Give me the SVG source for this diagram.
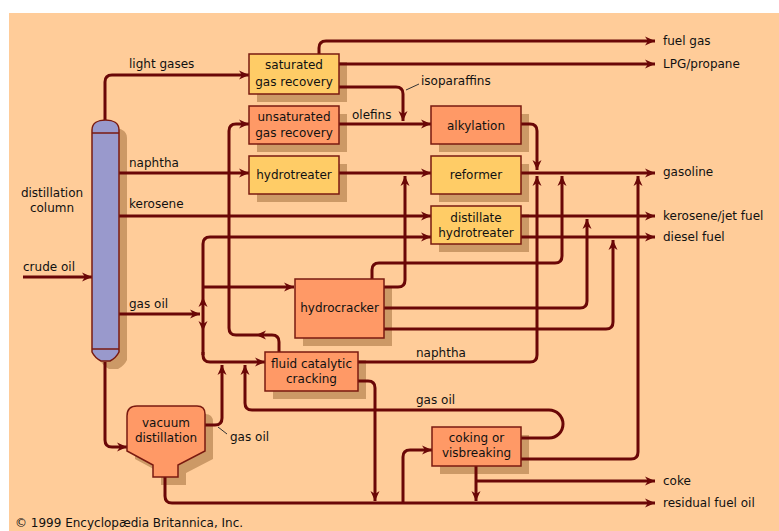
<svg xmlns="http://www.w3.org/2000/svg" xmlns:xlink="http://www.w3.org/1999/xlink" width="779" height="531" viewBox="0 0 779 531">
  <style>
    text { font-family: "DejaVu Sans", "Liberation Sans", sans-serif; font-size: 12px; fill: #111; }
    .c { text-anchor: middle; }
    .pipe { fill: none; stroke: #6a0707; stroke-width: 3; }
    .arr { marker-end: url(#head); }
    .lead { fill: none; stroke: #333; stroke-width: 1; }
    .box { stroke: #7a1a10; stroke-width: 1.5; }
    .yel { fill: #ffcc66; }
    .sal { fill: #ff9966; }
    .shd { fill: #cc9966; }
  </style>
  <defs>
    <marker id="head" markerUnits="userSpaceOnUse" viewBox="-11 -6 12 12" refX="0" refY="0" markerWidth="12" markerHeight="12" orient="auto">
      <path d="M-10,-4.5 L0,0 L-10,4.5 L-7,0 Z" fill="#6a0707"/>
    </marker>
    <path id="tip" d="M-10,-4.5 L0,0 L-10,4.5 L-7,0 Z" fill="#6a0707"/>
    <path id="colShape" d="M92,130 C92,123 98,120 105.5,120 C113,120 119,123 119,130 L119,352 Q116,358 110,361 L101,361 Q95,358 92,352 Z"/>
    <path id="vacShape" d="M127,416 Q127,406 137,406 L197,406 Q205,406 205,414 L205,451 L178,465 L178,477 L153,477 L153,465 L127,451 Z"/>
  </defs>

  <!-- backdrop -->
  <rect x="0" y="0" width="779" height="531" fill="#ffffff"/>
  <rect x="9" y="13" width="770" height="518" fill="#ffcc99"/>

  <!-- drop shadows -->
  <g id="shadows" class="shd">
    <use xlink:href="#colShape" transform="translate(8,8)"/>
    <rect x="257" y="62" width="90" height="40"/>
    <rect x="257" y="114" width="90" height="38"/>
    <rect x="257" y="164" width="90" height="38"/>
    <rect x="439" y="114" width="90" height="38"/>
    <rect x="439" y="164" width="90" height="38"/>
    <rect x="439" y="214" width="90" height="38"/>
    <rect x="303" y="287" width="89" height="59"/>
    <rect x="273" y="360" width="93" height="39"/>
    <use xlink:href="#vacShape" transform="translate(8,8)"/>
    <rect x="440" y="435" width="89" height="39"/>
  </g>

  <!-- process streams -->
  <g id="connectors">
    <path class="pipe arr" d="M105,120 V82 Q105,75 112,75 H249"/>
    <path class="pipe arr" d="M319,54 V48 Q319,41 326,41 H655"/>
    <path class="pipe arr" d="M339,64 H655"/>
    <path class="pipe arr" d="M339,87 H396 Q403,87 403,94 V121"/>
    <path class="pipe arr" d="M339,124 H431"/>
    <path class="pipe arr" d="M279,352 V342 Q279,335 272,335 H236 Q229,335 229,328 V131 Q229,124 236,124 H249"/>
    <use xlink:href="#tip" transform="translate(256,335) rotate(180)"/>
    <path class="pipe arr" d="M119,173 H249"/>
    <path class="pipe arr" d="M339,173 H431"/>
    <path class="pipe arr" d="M119,216 H431"/>
    <path class="pipe arr" d="M23,277 H92"/>
    <path class="pipe arr" d="M119,314 H200"/>
    <path class="pipe arr" d="M203,355 V244 Q203,237 210,237 H431"/>
    <path class="pipe arr" d="M203,352 V355 Q203,362 210,362 H265"/>
    <path class="pipe arr" d="M203,287 H294"/>
    <use xlink:href="#tip" transform="translate(203,297) rotate(-90)"/>
    <use xlink:href="#tip" transform="translate(203,331) rotate(90)"/>
    <path class="pipe arr" d="M105,362 V440 Q105,447 112,447 H127"/>
    <path class="pipe arr" d="M205,425 H215 Q222,425 222,418 V365"/>
    <path class="pipe arr" d="M521,438 H549 A14,14 0 0 0 549,410 H252 Q245,410 245,403 V365"/>
    <path class="pipe arr" d="M358,362 H530 Q537,362 537,355 V176"/>
    <path class="pipe arr" d="M521,124 H530 Q537,124 537,131 V170"/>
    <path class="pipe arr" d="M521,173 H655"/>
    <path class="pipe arr" d="M372,279 V270 Q372,263 379,263 H555 Q562,263 562,256 V176"/>
    <path class="pipe arr" d="M384,287 H398 Q405,287 405,280 V176"/>
    <path class="pipe arr" d="M384,308 H580 Q587,308 587,301 V219"/>
    <path class="pipe arr" d="M384,329 H606 Q613,329 613,322 V240"/>
    <path class="pipe arr" d="M521,459 H631 Q638,459 638,452 V176"/>
    <path class="pipe arr" d="M521,216 H655"/>
    <path class="pipe arr" d="M521,237 H655"/>
    <path class="pipe arr" d="M358,381 H368 Q375,381 375,388 V501"/>
    <path class="pipe arr" d="M165,477 V496 Q165,503 172,503 H655"/>
    <path class="pipe arr" d="M403,503 V457 Q403,450 410,450 H432"/>
    <path class="pipe arr" d="M476,466 V501"/>
    <path class="pipe arr" d="M476,481 H655"/>
    <path class="lead" d="M406,90 L419,84"/>
    <path class="lead" d="M218,427 L227,434"/>
  </g>

  <!-- stream labels -->
  <g id="labels">
    <text x="129" y="68">light gases</text>
    <text x="129" y="167">naphtha</text>
    <text x="129" y="208">kerosene</text>
    <text x="129" y="308">gas oil</text>
    <text x="23" y="271">crude oil</text>
    <text x="352" y="119">olefins</text>
    <text x="421" y="85">isoparaffins</text>
    <text x="416" y="357">naphtha</text>
    <text x="416" y="404">gas oil</text>
    <text x="230" y="441">gas oil</text>
    <text x="663" y="45">fuel gas</text>
    <text x="663" y="68">LPG/propane</text>
    <text x="663" y="176">gasoline</text>
    <text x="663" y="220">kerosene/jet fuel</text>
    <text x="663" y="241">diesel fuel</text>
    <text x="663" y="485">coke</text>
    <text x="663" y="507">residual fuel oil</text>
    <text x="15" y="527">© 1999 Encyclopædia Britannica, Inc.</text>
  </g>

  <!-- units -->
  <g id="distillation-column">
    <use xlink:href="#colShape" fill="#9999cc" stroke="#7a1a10" stroke-width="1.5"/>
    <path d="M92,133 H119 M92,349 H119" stroke="#7a1a10" stroke-width="1.5"/>
    <text class="c" x="52" y="197">distillation</text>
    <text class="c" x="52" y="212">column</text>
  </g>
  <g id="saturated-gas-recovery">
    <rect class="box yel" x="249" y="54" width="90" height="40"/>
    <text class="c" x="294" y="69">saturated</text>
    <text class="c" x="294" y="86">gas recovery</text>
  </g>
  <g id="unsaturated-gas-recovery">
    <rect class="box sal" x="249" y="106" width="90" height="38"/>
    <text class="c" x="294" y="121">unsaturated</text>
    <text class="c" x="294" y="137">gas recovery</text>
  </g>
  <g id="hydrotreater">
    <rect class="box yel" x="249" y="156" width="90" height="38"/>
    <text class="c" x="294" y="179">hydrotreater</text>
  </g>
  <g id="alkylation">
    <rect class="box sal" x="431" y="106" width="90" height="38"/>
    <text class="c" x="476" y="130">alkylation</text>
  </g>
  <g id="reformer">
    <rect class="box yel" x="431" y="156" width="90" height="38"/>
    <text class="c" x="476" y="179">reformer</text>
  </g>
  <g id="distillate-hydrotreater">
    <rect class="box yel" x="431" y="206" width="90" height="38"/>
    <text class="c" x="476" y="222">distillate</text>
    <text class="c" x="476" y="237">hydrotreater</text>
  </g>
  <g id="hydrocracker">
    <rect class="box sal" x="295" y="279" width="89" height="59"/>
    <text class="c" x="339.5" y="312">hydrocracker</text>
  </g>
  <g id="fluid-catalytic-cracking">
    <rect class="box sal" x="265" y="352" width="93" height="39"/>
    <text class="c" x="311.5" y="368">fluid catalytic</text>
    <text class="c" x="311.5" y="383">cracking</text>
  </g>
  <g id="vacuum-distillation">
    <use xlink:href="#vacShape" fill="#ff9966" stroke="#7a1a10" stroke-width="1.5"/>
    <text class="c" x="166" y="427">vacuum</text>
    <text class="c" x="166" y="442">distillation</text>
  </g>
  <g id="coking-visbreaking">
    <rect class="box sal" x="432" y="427" width="89" height="39"/>
    <text class="c" x="476.5" y="442">coking or</text>
    <text class="c" x="476.5" y="457">visbreaking</text>
  </g>
</svg>
